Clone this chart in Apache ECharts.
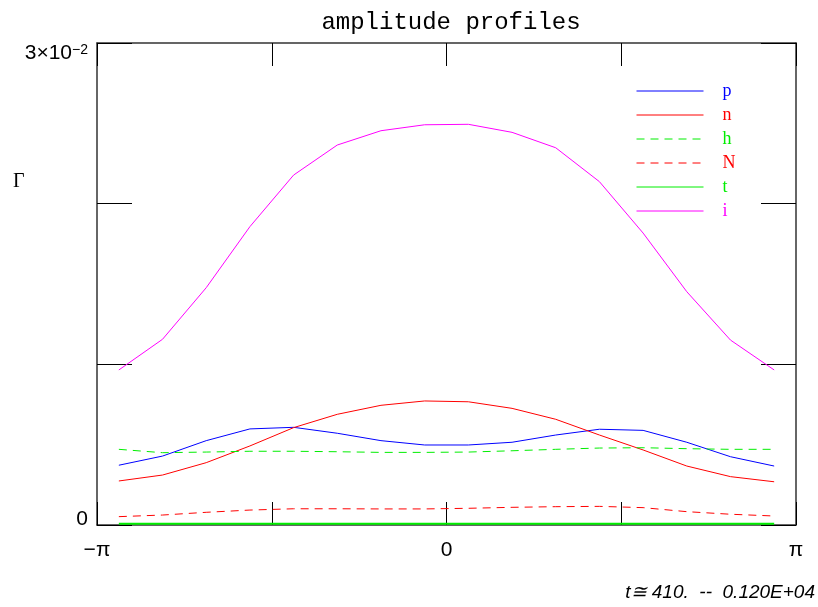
<!DOCTYPE html>
<html>
<head>
<meta charset="utf-8">
<script src="https://cdn.jsdelivr.net/npm/echarts@6/dist/echarts.min.js"></script>
<style>
  html, body { margin: 0; padding: 0; background: #fff; }
  #chart { width: 818px; height: 607px; }
</style>
</head>
<body>
<div id="chart"></div>
<script>
    // x positions in units of pi
    const xPos = [-0.9375, -0.8125, -0.6875, -0.5625, -0.4375, -0.3125, -0.1875, -0.0625,
                  0.0625, 0.1875, 0.3125, 0.4375, 0.5625, 0.6875, 0.8125, 0.9375];

    // amplitudes in units of 1e-2
    const pVals = [0.372, 0.429, 0.525, 0.598, 0.608, 0.571, 0.525, 0.498,
                   0.498, 0.515, 0.560, 0.596, 0.589, 0.515, 0.425, 0.367];
    const nVals = [0.274, 0.311, 0.388, 0.492, 0.606, 0.689, 0.745, 0.772,
                   0.767, 0.726, 0.658, 0.560, 0.467, 0.367, 0.301, 0.269];
    const hVals = [0.471, 0.450, 0.454, 0.459, 0.459, 0.456, 0.452, 0.452,
                   0.454, 0.462, 0.471, 0.479, 0.481, 0.475, 0.471, 0.471];
    const NVals = [0.052, 0.062, 0.079, 0.093, 0.101, 0.101, 0.100, 0.100,
                   0.104, 0.110, 0.114, 0.116, 0.108, 0.083, 0.067, 0.056];
    const tVals = [0.008, 0.008, 0.008, 0.008, 0.008, 0.008, 0.008, 0.008,
                   0.008, 0.008, 0.008, 0.008, 0.008, 0.008, 0.008, 0.008];
    const iVals = [0.965, 1.156, 1.477, 1.857, 2.178, 2.365, 2.454, 2.491,
                   2.494, 2.444, 2.348, 2.137, 1.817, 1.452, 1.151, 0.965];

    const xTickLabels = { '-1': '−π', '0': '0', '1': 'π' };

    const GREEN = '#00ee00';

    function pairs(vals) {
        return vals.map((v, i) => [xPos[i], v]);
    }

    const seriesDefs = [
        { name: 'p', data: pVals, color: '#0000ff', type: 'solid' },
        { name: 'n', data: nVals, color: '#ff0000', type: 'solid' },
        { name: 'h', data: hVals, color: GREEN, type: [8, 6] },
        { name: 'N', data: NVals, color: '#ff0000', type: [8, 6] },
        { name: 't', data: tVals, color: GREEN, type: 'solid', width: 2 },
        { name: 'i', data: iVals, color: '#ff00ff', type: 'solid' }
    ];

    const myChart = echarts.init(document.getElementById('chart'));

    const frameLine = { show: true, onZero: false, lineStyle: { color: '#333', width: 1.5 } };

    const option = {
        animation: false,
        title: {
            text: 'amplitude profiles',
            left: 446,
            textAlign: 'center',
            top: 6,
            textStyle: { fontFamily: 'Liberation Mono', fontSize: 24, fontWeight: 'normal', color: '#000' }
        },
        grid: { left: 97, right: 22, top: 43, bottom: 82 },
        legend: {
            orient: 'vertical',
            left: 636,
            top: 82,
            padding: 0,
            itemWidth: 67,
            itemHeight: 10,
            itemGap: 6,
            itemStyle: { opacity: 0 },
            lineStyle: { width: 1 },
            textStyle: { fontFamily: 'Liberation Serif', fontSize: 18, padding: [0, 0, 0, 14] },
            data: seriesDefs.map(s => ({ name: s.name, textStyle: { color: s.color } }))
        },
        xAxis: [
            {
                type: 'value', min: -1, max: 1, interval: 0.5,
                axisLine: frameLine,
                axisTick: { inside: true, length: 23, lineStyle: { color: '#000' } },
                axisLabel: {
                    margin: 15,
                    fontFamily: 'Liberation Sans', fontSize: 21, color: '#000',
                    formatter: v => xTickLabels[String(v)] || ''
                },
                splitLine: { show: false }
            },
            {
                type: 'value', min: -1, max: 1, interval: 0.5, position: 'top',
                axisLine: frameLine,
                axisTick: { inside: true, length: 23, lineStyle: { color: '#000' } },
                axisLabel: { show: false },
                splitLine: { show: false }
            }
        ],
        yAxis: [
            {
                type: 'value', min: 0, max: 3, interval: 1,
                axisLine: frameLine,
                axisTick: { inside: true, length: 35, lineStyle: { color: '#000' } },
                axisLabel: {
                    margin: 9,
                    color: '#000',
                    fontFamily: 'Liberation Sans', fontSize: 21,
                    verticalAlignMinLabel: 'bottom',
                    verticalAlignMaxLabel: 'top',
                    formatter: v => v === 0 ? '{z|0}' : (v === 3 ? '{a|3×10}{s|−2}' : ''),
                    rich: {
                        z: { fontFamily: 'Liberation Sans', fontSize: 21, color: '#000', lineHeight: 12 },
                        a: { fontFamily: 'Liberation Sans', fontSize: 21, color: '#000', lineHeight: 20 },
                        s: { fontFamily: 'Liberation Sans', fontSize: 14, color: '#000', verticalAlign: 'top', lineHeight: 14 }
                    }
                },
                splitLine: { show: false }
            },
            {
                type: 'value', min: 0, max: 3, interval: 1, position: 'right',
                axisLine: frameLine,
                axisTick: { inside: true, length: 35, lineStyle: { color: '#000' } },
                axisLabel: { show: false },
                splitLine: { show: false }
            }
        ],
        graphic: [
            {
                type: 'text', left: 13, top: 172,
                style: { text: 'Γ', font: '20px "Liberation Serif"', fill: '#000' }
            },
            {
                type: 'text', right: 3, top: 583,
                style: { text: 't≅ 410.  --  0.120E+04', font: 'italic 19px "Liberation Sans"', fill: '#000' }
            }
        ],
        series: seriesDefs.map(s => ({
            name: s.name,
            type: 'line',
            symbol: 'none',
            data: pairs(s.data),
            lineStyle: { color: s.color, width: s.width || 1, type: s.type },
            itemStyle: { color: s.color }
        }))
    };

    myChart.setOption(option);
</script>
</body>
</html>
